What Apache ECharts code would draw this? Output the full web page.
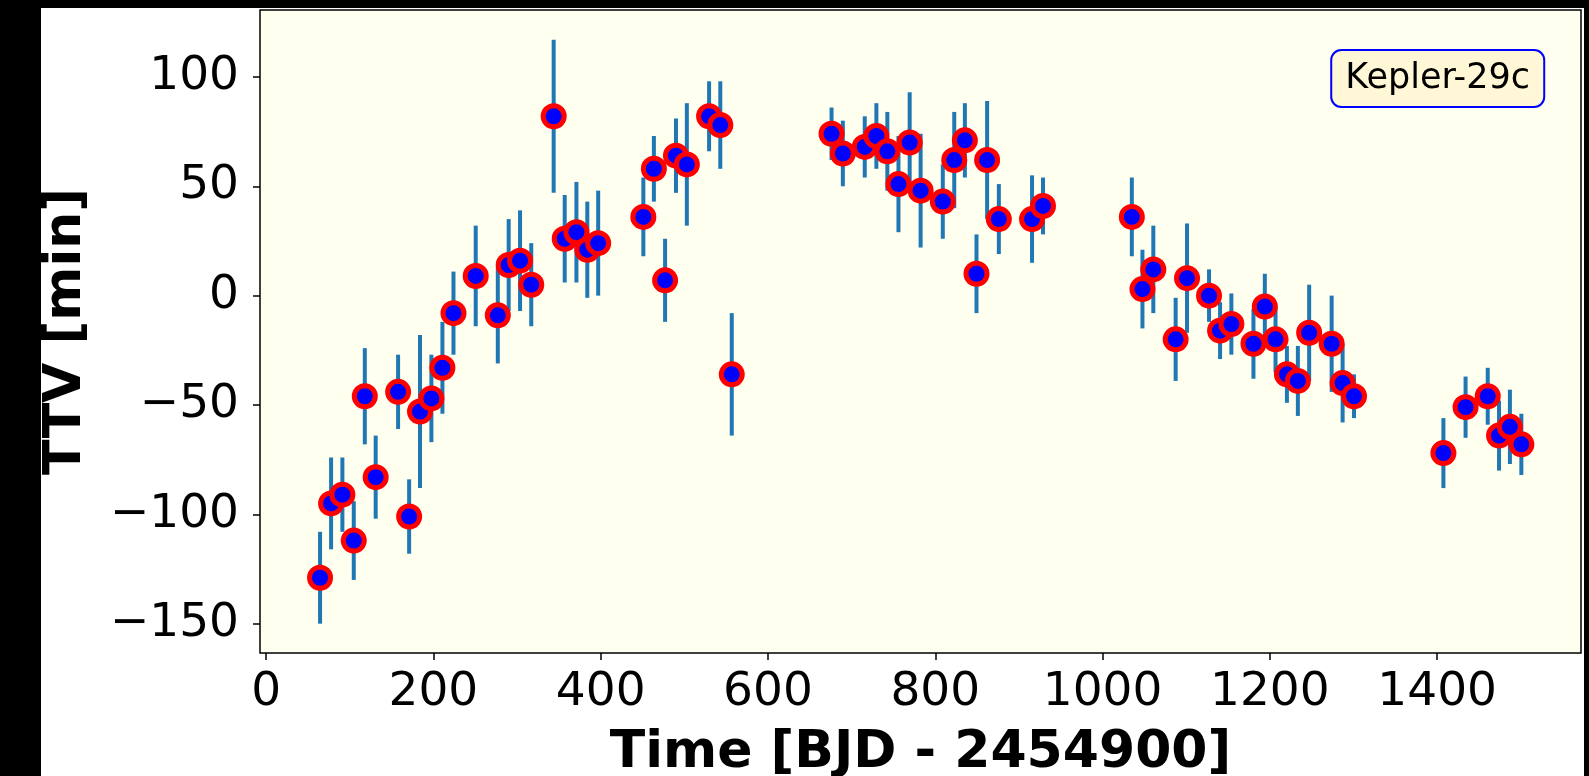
<!DOCTYPE html>
<html>
<head>
<meta charset="utf-8">
<title>Kepler-29c TTV</title>
<script src="https://cdn.jsdelivr.net/npm/echarts@6/dist/echarts.min.js"></script>
<style>
  html, body { margin: 0; padding: 0; background: #000; }
  #chart {
    position: absolute;
    left: 41px; top: 8px;
    width: 1543px; height: 768px;
    background: #fff;
  }
</style>
</head>
<body>
<div id="chart"></div>
<script>
  // transit times (BJD - 2454900), TTV and 1-sigma error
  const time = [64.5, 77.7, 91.2, 104.8, 118, 131, 157.8, 171, 184, 197.6,
    210.8, 224, 250.6, 277, 290, 303.6, 317, 343.8, 357, 371,
    384, 397, 451, 463.6, 477, 490, 503, 529.6, 543, 556.7,
    676, 689.5, 715.7, 729.6, 742.7, 756, 769.4, 782.5, 809, 822.7,
    835.4, 849.3, 862, 876, 915.7, 928.8, 1035, 1047.7, 1060.7, 1087.4,
    1101, 1127.3, 1140.5, 1154, 1180.4, 1194, 1206.8, 1220.4, 1233.5, 1247,
    1273.9, 1287, 1300.6, 1407.5, 1434, 1460.5, 1474, 1487, 1500.7]
  const ttv = [-129, -95, -91, -112, -46, -83, -44, -101, -53, -47,
    -33, -8, 9, -9, 14, 16, 5, 82, 26, 29,
    21, 24, 36, 58, 7, 64, 60, 82, 78, -36,
    74, 65, 68, 73, 66, 51, 70, 48, 43, 62,
    71, 10, 62, 35, 35, 41, 36, 3, 12, -20,
    8, 0, -16, -13, -22, -5, -20, -36, -39, -17,
    -22, -40, -46, -72, -51, -46, -64, -60, -68]
  const err = [21, 21, 17, 18, 22, 19, 17, 17, 35, 20,
    21, 19, 23, 22, 21, 23, 19, 35, 20, 23,
    22, 24, 18, 15, 19, 17, 28, 16, 20, 28,
    12, 15, 14, 15, 18, 22, 23, 26, 17, 22,
    17, 18, 27, 16, 20, 13, 18, 18, 20, 19,
    25, 12, 13, 14, 16, 15, 15, 13, 16, 22,
    22, 18, 10, 16, 14, 13, 16, 17, 14]

  const xTicks = [0, 200, 400, 600, 800, 1000, 1200, 1400]
  const yTicks = [-150, -100, -50, 0, 50, 100]
  const planet = 'Kepler-29c'

  const font = 'DejaVu Sans'
  const pts = time.map((t, i) => [t, ttv[i], err[i]])

  const myCharts = echarts.init(document.getElementById('chart'))
  const option = {
    animation: false,
    title: {
      text: planet,
      right: 40,
      top: 42,
      padding: [8, 14, 7, 14],
      backgroundColor: '#fff7d6',
      borderColor: '#0000ff',
      borderWidth: 2,
      borderRadius: 10,
      textStyle: { fontFamily: font, fontSize: 35, fontWeight: 'normal', color: '#000', lineHeight: 42 }
    },
    grid: {
      left: 219, top: 2, right: 3, bottom: 123,
      containLabel: false,
      outerBoundsMode: 'none',
      show: true,
      backgroundColor: '#fffff0',
      borderColor: '#000',
      borderWidth: 1.5
    },
    xAxis: {
      type: 'value',
      min: -7.3,
      max: 1572,
      name: 'Time [BJD - 2454900]',
      nameLocation: 'middle',
      nameGap: 74,
      nameTextStyle: { fontFamily: font, fontSize: 52, fontWeight: 'bold', color: '#000' },
      splitLine: { show: false },
      axisLine: { show: false, onZero: false },
      axisTick: { show: true, length: 7, lineStyle: { color: '#000', width: 1.5 }, customValues: xTicks },
      axisLabel: { fontFamily: font, fontSize: 47, color: '#000', margin: 16, customValues: xTicks, formatter: v => String(v) }
    },
    yAxis: {
      type: 'value',
      min: -163.4,
      max: 130.6,
      name: 'TTV [min]',
      nameLocation: 'middle',
      nameGap: 168,
      nameTextStyle: { fontFamily: font, fontSize: 52, fontWeight: 'bold', color: '#000' },
      splitLine: { show: false },
      axisLine: { show: false, onZero: false },
      axisTick: { show: true, length: 7, lineStyle: { color: '#000', width: 1.5 }, customValues: yTicks },
      axisLabel: {
        fontFamily: font, fontSize: 47, color: '#000', margin: 21, customValues: yTicks,
        formatter: v => (v < 0 ? '\u2212' + Math.abs(v) : String(v))  // matplotlib minus sign
      }
    },
    series: [
      {
        // vertical error bars
        type: 'custom',
        data: pts,
        encode: { x: 0, y: 1 },
        renderItem: function (params, api) {
          const x = api.value(0), y = api.value(1), e = api.value(2)
          const a = api.coord([x, y - e])
          const b = api.coord([x, y + e])
          return {
            type: 'line',
            shape: { x1: a[0], y1: a[1], x2: b[0], y2: b[1] },
            style: { stroke: '#1f77b4', lineWidth: 4 }
          }
        }
      },
      {
        type: 'scatter',
        data: pts.map(p => [p[0], p[1]]),
        symbol: 'circle',
        symbolSize: 21,
        itemStyle: { color: '#0000ff', borderColor: '#ff0000', borderWidth: 5, opacity: 1 }
      }
    ]
  }
  myCharts.setOption(option)
</script>
</body>
</html>
